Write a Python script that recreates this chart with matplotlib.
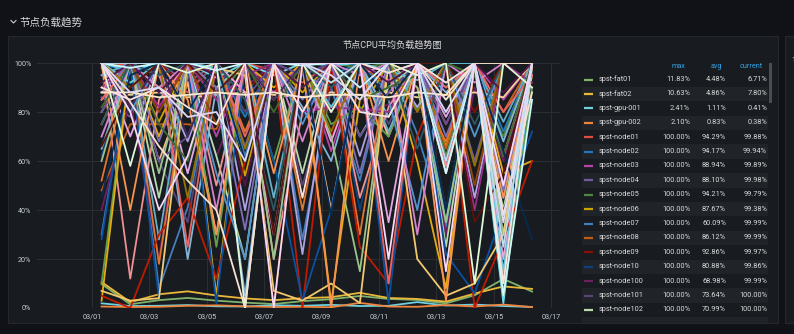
import matplotlib.pyplot as plt
from matplotlib.patches import Rectangle

plt.rcParams['font.family'] = ['Roboto', 'Noto Sans CJK SC', 'DejaVu Sans']

# 采样日期 (每天 08:00)
days = [1, 2, 3, 4, 5, 6, 7, 8, 9, 10, 11, 12, 13, 14, 15, 16]
xticks_lbl = ['03/01', '03/03', '03/05', '03/07', '03/09', '03/11', '03/13', '03/15', '03/17']

# 各节点CPU负载 (%)
fat01 = [9.8, 1.5, 3.2, 4.1, 3.0, 2.2, 1.6, 2.8, 3.6, 4.9, 3.7, 3.3, 1.9, 5.2, 11.83, 6.71]
fat02 = [10.63, 2.4, 5.6, 6.8, 5.1, 3.9, 3.2, 4.0, 4.4, 6.2, 4.1, 3.7, 2.6, 5.9, 8.8, 7.8]
gpu001 = [1.9, 0.8, 0.9, 1.2, 0.7, 0.6, 1.1, 0.9, 1.3, 0.8, 0.9, 2.41, 1.0, 1.4, 0.8, 0.41]
gpu002 = [0.6, 0.4, 0.5, 0.9, 1.1, 0.7, 0.4, 0.5, 0.3, 2.1, 0.6, 0.5, 1.2, 0.6, 1.4, 0.38]
node01 = [98, 100, 95, 88, 100, 100, 97, 92, 100, 85, 100, 100, 75, 100, 80, 99.88]
node02 = [100, 96, 100, 90, 99, 78, 100, 100, 95, 100, 88, 100, 92, 100, 72, 99.94]
node03 = [95, 100, 82, 100, 70, 100, 88, 100, 64, 100, 93, 100, 58, 100, 85, 99.89]
node04 = [86, 78, 100, 92, 100, 66, 100, 95, 90, 100, 71, 100, 100, 60, 100, 99.98]
node05 = [100, 92, 100, 100, 85, 100, 100, 90, 100, 98, 100, 81, 100, 95, 70, 99.79]
node06 = [90, 100, 76, 100, 100, 54, 100, 88, 100, 80, 100, 100, 66, 100, 50, 99.38]
node07 = [30, 100, 8, 41, 100, 62, 100, 28, 90, 52, 100, 71, 33, 100, 45, 99.99]
node08 = [48, 75, 75, 75, 73, 100, 95, 100, 82, 100, 90, 100, 65, 100, 80, 99.99]
node09 = [82, 100, 100, 90, 100, 88, 100, 100, 70, 100, 100, 95, 100, 80, 100, 99.97]
node10 = [62, 100, 90, 55, 100, 80, 100, 78, 100, 40, 92, 100, 85, 100, 30, 99.86]
node100 = [40, 85, 20, 100, 62, 90, 100, 45, 100, 80, 83, 100, 30, 90, 60, 99.99]
node101 = [70, 100, 60, 35, 100, 80, 100, 50, 90, 100, 75, 100, 40, 100, 30, 100]
node102 = [80, 100, 45, 100, 62, 20, 100, 55, 100, 70, 90, 100, 25, 100, 40, 100]
node103 = [88, 87, 88, 86, 87, 88, 87, 86, 88, 87, 88, 86, 87, 88, 86, 100]
node104 = [100, 97, 100, 100, 94, 100, 95, 100, 99, 100, 96, 100, 90, 100, 2, 98]
node105 = [75, 100, 60, 92, 30, 100, 85, 100, 40, 100, 70, 100, 55, 100, 38, 95]
node106 = [100, 12, 85, 100, 50, 100, 20, 80, 100, 45, 82, 100, 58, 100, 62, 100]
node107 = [65, 100, 100, 20, 90, 5, 100, 82, 60, 100, 78, 100, 88, 100, 68, 100]
node108 = [100, 70, 100, 55, 100, 88, 30, 100, 68, 100, 35, 100, 78, 100, 20, 100]
node109 = [85, 100, 95, 68, 100, 40, 100, 22, 100, 62, 100, 82, 100, 45, 100, 100]
node11 = [10, 100, 90, 100, 25, 100, 60, 100, 75, 82, 70, 100, 62, 100, 5, 90]
node110 = [3, 100, 70, 100, 5, 100, 90, 100, 2, 85, 100, 60, 8, 100, 55, 60]
node111 = [95, 100, 28, 100, 88, 100, 45, 100, 92, 100, 72, 100, 35, 100, 76, 100]
node112 = [52, 100, 18, 95, 100, 72, 100, 40, 100, 30, 100, 90, 68, 100, 12, 100]
node113 = [5, 0, 30, 45, 12, 60, 100, 0, 100, 25, 10, 70, 100, 0, 28, 60]
node114 = [28, 100, 4, 100, 2, 100, 60, 3, 40, 100, 2, 100, 22, 6, 40, 72]
node115 = [90, 100, 82, 100, 85, 95, 100, 80, 82, 81, 80, 100, 100, 40, 100, 92]
node116 = [80, 100, 60, 70, 100, 85, 100, 95, 100, 70, 88, 100, 75, 100, 50, 100]
node117 = [60, 100, 55, 100, 90, 100, 20, 100, 70, 15, 100, 90, 35, 100, 30, 100]
node118 = [7, 3, 4, 100, 98, 95, 7, 3, 10, 2, 100, 20, 5, 10, 30, 100]
node119 = [100, 92, 100, 100, 98, 60, 100, 100, 82, 100, 97, 93, 100, 100, 15, 100]
node12 = [100, 40, 100, 85, 30, 100, 55, 100, 0, 100, 60, 100, 3, 100, 45, 98]
node120 = [85, 100, 100, 25, 100, 70, 100, 100, 80, 100, 10, 100, 90, 100, 80, 95]
node121 = [100, 80, 100, 100, 55, 20, 100, 75, 100, 100, 85, 40, 100, 70, 100, 100]
node122 = [70, 100, 90, 100, 40, 100, 100, 68, 100, 95, 100, 30, 100, 92, 100, 100]
node123 = [88, 100, 68, 100, 90, 32, 100, 85, 100, 55, 100, 100, 70, 100, 48, 100]
node124 = [82, 100, 75, 60, 100, 100, 80, 100, 100, 85, 90, 95, 100, 95, 62, 100]
node125 = [100, 90, 100, 45, 100, 65, 100, 100, 72, 100, 100, 80, 100, 58, 100, 100]
node126 = [75, 100, 95, 100, 100, 85, 40, 100, 90, 100, 100, 65, 100, 75, 100, 100]
node127 = [100, 100, 80, 100, 75, 100, 0, 100, 92, 100, 85, 100, 100, 50, 100, 100]
node128 = [66, 90, 100, 100, 88, 100, 30, 100, 100, 100, 100, 100, 100, 35, 55, 100]
node129 = [45, 95, 100, 80, 100, 60, 100, 100, 38, 100, 85, 100, 40, 100, 64, 28]
node13 = [92, 100, 88, 100, 95, 50, 100, 90, 100, 100, 92, 100, 60, 100, 88, 100]
node130 = [100, 82, 100, 70, 100, 100, 85, 100, 100, 90, 100, 100, 80, 100, 100, 100]
node131 = [100, 58, 100, 96, 100, 0, 100, 100, 80, 100, 100, 95, 100, 10, 100, 90]
node132 = [88, 88, 86, 87, 88, 87, 88, 86, 87, 87, 86, 88, 87, 100, 100, 100]
node133 = [100, 98, 100, 100, 97, 100, 100, 99, 100, 90, 100, 100, 55, 100, 5, 85]
node134 = [100, 84, 66, 52, 40, 0, 100, 45, 100, 100, 96, 100, 85, 100, 38, 88]
node135 = [90, 85, 90, 82, 75, 100, 100, 80, 100, 80, 78, 100, 92, 100, 10, 100]
node136 = [100, 100, 100, 100, 100, 100, 100, 100, 92, 100, 100, 100, 60, 100, 25, 100]
node137 = [100, 80, 40, 62, 100, 100, 0, 100, 100, 100, 20, 100, 15, 100, 50, 100]
node138 = [100, 88, 90, 78, 80, 60, 100, 100, 95, 85, 100, 100, 80, 100, 35, 100]

series = [fat01, fat02, gpu001, gpu002, node01, node02, node03, node04, node05, node06,
          node07, node08, node09, node10, node100, node101, node102, node103, node104,
          node105, node106, node107, node108, node109, node11, node110, node111, node112,
          node113, node114, node115, node116, node117, node118, node119, node12, node120,
          node121, node122, node123, node124, node125, node126, node127, node128, node129,
          node13, node130, node131, node132, node133, node134, node135, node136, node137,
          node138]

# grafana 默认配色
colors = ['#7EB26D', '#EAB839', '#6ED0E0', '#EF843C', '#E24D42', '#1F78C1', '#BA43A9', '#705DA0',
          '#508642', '#CCA300', '#447EBC', '#C15C17', '#890F02', '#0A437C', '#6D1F62', '#584477',
          '#B7DBAB', '#F4D598', '#70DBED', '#F9BA8F', '#F29191', '#82B5D8', '#E5A8E2', '#AEA2E0',
          '#629E51', '#E5AC0E', '#64B0C8', '#E0752D', '#BF1B00', '#0A50A1', '#962D82', '#614D93',
          '#9AC48A', '#F2C96D', '#65C5DB', '#F9934E', '#EA6460', '#5195CE', '#D683CE', '#806EB7',
          '#3F6833', '#967302', '#2F575E', '#99440A', '#58140C', '#052B51', '#511749', '#3F2B5B',
          '#E0F9D7', '#FCEACA', '#CFFAFF', '#F9E2D2', '#FCE2DE', '#BADFF4', '#F9D9F9', '#DEDAF7']

# 图例 (可见部分)
leg_names = ['spst-fat01', 'spst-fat02', 'spst-gpu-001', 'spst-gpu-002', 'spst-node01',
             'spst-node02', 'spst-node03', 'spst-node04', 'spst-node05', 'spst-node06',
             'spst-node07', 'spst-node08', 'spst-node09', 'spst-node10', 'spst-node100',
             'spst-node101', 'spst-node102']
leg_max = ['11.83%', '10.63%', '2.41%', '2.10%'] + ['100.00%'] * 13
leg_avg = ['4.48%', '4.86%', '1.11%', '0.83%', '94.29%', '94.17%', '88.94%', '88.10%', '94.21%',
           '87.67%', '60.09%', '86.12%', '92.86%', '80.88%', '68.98%', '73.64%', '70.99%']
leg_cur = ['6.71%', '7.80%', '0.41%', '0.38%', '99.88%', '99.94%', '99.89%', '99.98%', '99.79%',
           '99.38%', '99.99%', '99.99%', '99.97%', '99.86%', '99.99%', '100.00%', '100.00%']

W, H = 794, 334
fig = plt.figure(figsize=(W / 100, H / 100), dpi=100)
fig.patch.set_facecolor('#111217')

# 背景层 (像素坐标)
bg = fig.add_axes([0, 0, 1, 1])
bg.set_xlim(0, W)
bg.set_ylim(H, 0)
bg.axis('off')
bg.add_patch(Rectangle((8, 36), 770, 287, facecolor='#181b1f', edgecolor='#24272c', lw=0.8))
bg.add_patch(Rectangle((785, 36), 20, 287, facecolor='#181b1f', edgecolor='#24272c', lw=0.8))
bg.text(791, 61, '1', color='#c7d0d9', fontsize=5.2, va='center')
bg.plot([11, 13.5, 16], [20.5, 23, 20.5], color='#c7d0d9', lw=0.8)
bg.text(19, 22, '节点负载趋势', color='#d8d9da', fontsize=7.6, va='center')
bg.text(392, 45, '节点CPU平均负载趋势图', color='#d8d9da', fontsize=6.6, ha='center', va='center')

# 图例
bg.text(685, 67, 'max', color='#33a2e5', fontsize=5.2, ha='right', va='center')
bg.text(722, 67, 'avg', color='#33a2e5', fontsize=5.2, ha='right', va='center')
bg.text(763, 67, 'current', color='#33a2e5', fontsize=5.2, ha='right', va='center')
for i, name in enumerate(leg_names):
    y = 79.5 + i * 14.4
    if i % 2 == 1:
        bg.add_patch(Rectangle((582, y - 7.2), 186, 14.4, facecolor='#202328', edgecolor='none'))
    bg.plot([584, 593], [y, y], color=colors[i], lw=1.6, solid_capstyle='butt')
    bg.text(599, y, name, color='#d8d9da', fontsize=5.3, va='center')
    bg.text(690, y, leg_max[i], color='#d8d9da', fontsize=5.3, ha='right', va='center')
    bg.text(726, y, leg_avg[i], color='#d8d9da', fontsize=5.3, ha='right', va='center')
    bg.text(767, y, leg_cur[i], color='#d8d9da', fontsize=5.3, ha='right', va='center')
bg.add_patch(Rectangle((582, 79.5 + 17 * 14.4 - 7.2), 186, 6, facecolor='#202328', edgecolor='none'))
bg.add_patch(Rectangle((768.5, 63), 3, 40, facecolor='#4a4d52', edgecolor='none'))

# 折线图
ax = fig.add_axes([37 / W, 1 - 308 / H, 523 / W, 245 / H])
ax.set_facecolor('none')
x = [d - 1 + 8 / 24 for d in days]
for vals, c in zip(series, colors):
    ax.plot(x, vals, color=c, lw=1.3)

ax.set_xlim(-55 / 28.7, 468 / 28.7)
ax.set_ylim(0, 100)
ax.set_xticks(range(0, 17, 2))
ax.set_xticklabels(xticks_lbl)
ax.set_yticks(range(0, 101, 20))
ax.set_yticklabels([f'{v}%' for v in range(0, 101, 20)])
ax.grid(True, color='#2a2d32', lw=0.8)
ax.set_axisbelow(True)
ax.tick_params(length=0, colors='#c7d0d9', labelsize=5.2)
ax.tick_params(axis='y', pad=4)
ax.tick_params(axis='x', pad=4)
for s in ax.spines.values():
    s.set_visible(False)

fig.savefig('out.png', dpi=100, facecolor=fig.get_facecolor())
